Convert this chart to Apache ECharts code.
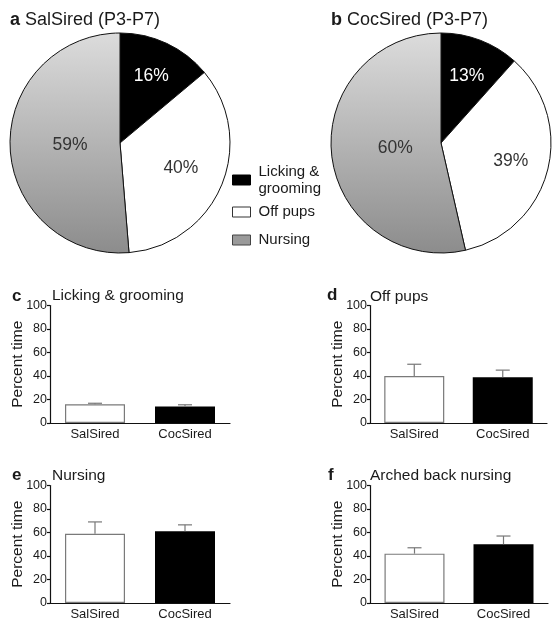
<!DOCTYPE html>
<html><head><meta charset="utf-8">
<script src="https://cdn.jsdelivr.net/npm/echarts@6/dist/echarts.min.js"></script>
<style>html,body{margin:0;padding:0;background:#fff}#c{width:555px;height:634px}</style>
</head><body><div id="c"></div>
<script>
// ---- data ----
const behaviours = ['Licking & grooming', 'Off pups', 'Nursing'];
const pieSalSired = [16, 40, 59];
const pieCocSired = [13, 39, 60];
const pieTitles = ['SalSired (P3-P7)', 'CocSired (P3-P7)'];
const groups = ['SalSired', 'CocSired'];
const panelTitles = ['Licking & grooming', 'Off pups', 'Nursing', 'Arched back nursing'];
const lgMean = [16, 14];  const lgSem = [0.8, 1.5];
const offMean = [40, 39]; const offSem = [10, 6];
const nurMean = [59, 61]; const nurSem = [10, 5.5];
const abnMean = [42, 50]; const abnSem = [5, 7];
const yTicks = [0, 20, 40, 60, 80, 100];

// ---- styles / layout ----
const FF = '"Liberation Sans", Arial, Helvetica, sans-serif';
const TXT = '#1a1a1a';
const grayGrad = {type:'linear', x:0, y:0, x2:0, y2:1,
  colorStops:[{offset:0, color:'#dcdcdc'}, {offset:1, color:'#8c8c8c'}]};
const sliceStyles = [{color:'#000'}, {color:'#fff'}, {color:grayGrad}];
const legendIcons = [
  {color:'#000', borderColor:'#000', borderWidth:1},
  {color:'#fff', borderColor:'#333', borderWidth:1},
  {color:'#9a9a9a', borderColor:'#444', borderWidth:1}];
const legendTops = [164, 203.5, 231.5];
const pieCenters = [[120, 143], [441, 143]];
const pieLabelR = [[74, 66, 50], [72, 72, 46]];
const barStyles = [{color:'#fff', borderColor:'#7a7a7a', borderWidth:1.2}, {color:'#000'}];
const grids = [
  {left:50, top:305.5, width:180, height:117.5},
  {left:370, top:305.5, width:177, height:117.5},
  {left:50, top:485.5, width:180, height:117.5},
  {left:370, top:485.5, width:178, height:117.5}];
const letterPos = [[12, 288], [327, 287], [12, 467], [328, 467]];
const titlePos = [[52, 288], [370, 289], [52, 468], [370, 468]];
const panelData = [[lgMean, lgSem], [offMean, offSem], [nurMean, nurSem], [abnMean, abnSem]];

function pieSeries(vals, idx) {
  const center = pieCenters[idx];
  return {
    type:'pie', center:center, radius:110, startAngle:90, clockwise:true,
    animation:false, silent:true,
    itemStyle:{borderColor:'#111', borderWidth:1},
    label:{show:true, position:'inside', formatter:p => p.value + '%',
      fontSize:17.5, color:'#333', fontFamily:FF},
    labelLine:{show:false},
    labelLayout:function(p){
      const r = p.labelRect;
      const lx = r.x + r.width/2, ly = r.y + r.height/2;
      const dx = lx - center[0], dy = ly - center[1];
      const d = Math.sqrt(dx*dx + dy*dy) || 1;
      const k = pieLabelR[idx][p.dataIndex] / d;
      return {dx: dx*(k-1), dy: dy*(k-1)};
    },
    data: vals.map((v, i) => ({name:behaviours[i], value:v, itemStyle:sliceStyles[i],
      label: i === 0 ? {color:'#fff'} : {}}))
  };
}

const titles = [];
['a', 'b'].forEach((l, i) => {
  titles.push({text:'{b|' + l + '} ' + pieTitles[i], left: i === 0 ? 10 : 331, top:11, padding:0,
    textStyle:{fontSize:18, fontWeight:'normal', color:TXT, fontFamily:FF,
      rich:{b:{fontWeight:'bold', fontSize:18, color:TXT, fontFamily:FF}}}});
});
['c', 'd', 'e', 'f'].forEach((l, i) => {
  titles.push({text:l, left:letterPos[i][0], top:letterPos[i][1], padding:0,
    textStyle:{fontSize:17, fontWeight:'bold', color:TXT, fontFamily:FF}});
  titles.push({text:panelTitles[i], left:titlePos[i][0], top:titlePos[i][1], padding:0,
    textStyle:{fontSize:15.5, fontWeight:'normal', color:TXT, fontFamily:FF}});
});

const legends = behaviours.map((n, i) => ({
  data:[{name:n, icon:'rect', itemStyle:legendIcons[i]}],
  left:232, top:legendTops[i], orient:'vertical', padding:0,
  itemWidth:18, itemHeight:10, selectedMode:false,
  formatter: name => name === 'Licking & grooming' ? 'Licking &\ngrooming' : name,
  textStyle:{fontSize:15, color:TXT, fontFamily:FF, lineHeight:17, height:17, padding:[0,0,0,3]}
}));

const axisLineStyle = {color:'#111', width:1.2};
const xAxes = grids.map((g, k) => ({
  type:'category', gridIndex:k, data:groups,
  axisLine:{lineStyle:axisLineStyle},
  axisTick:{alignWithLabel:true, length:4, lineStyle:axisLineStyle},
  axisLabel:{fontSize:13, color:TXT, margin:5, fontFamily:FF}
}));
const yAxes = grids.map((g, k) => ({
  type:'value', gridIndex:k, min:yTicks[0], max:yTicks[yTicks.length-1],
  interval:yTicks[1]-yTicks[0],
  axisLine:{show:true, lineStyle:axisLineStyle},
  axisTick:{show:true, length:3, lineStyle:axisLineStyle},
  axisLabel:{fontSize:12.5, color:TXT, margin:3, fontFamily:FF},
  splitLine:{show:false},
  name:'Percent time', nameLocation:'middle', nameGap:24, nameMoveOverlap:false,
  nameTextStyle:{fontSize:15.5, color:TXT, fontFamily:FF}
}));

const series = [pieSeries(pieSalSired, 0), pieSeries(pieCocSired, 1)];
panelData.forEach((pd, k) => {
  const mean = pd[0], sem = pd[1];
  series.push({type:'bar', xAxisIndex:k, yAxisIndex:k, barWidth:60, animation:false, silent:true,
    data: mean.map((v, i) => ({value:v, itemStyle:barStyles[i]}))});
  series.push({type:'custom', xAxisIndex:k, yAxisIndex:k, z:5, animation:false, silent:true,
    data: mean.map((m, i) => [i, m, m + sem[i]]),
    renderItem:(params, api) => {
      const x = api.value(0);
      const p0 = api.coord([x, api.value(1)]);
      const p1 = api.coord([x, api.value(2)]);
      const w = 7;
      const st = {stroke:'#777', lineWidth:1.2};
      return {type:'group', children:[
        {type:'line', shape:{x1:p0[0], y1:p0[1], x2:p1[0], y2:p1[1]}, style:st},
        {type:'line', shape:{x1:p1[0]-w, y1:p1[1], x2:p1[0]+w, y2:p1[1]}, style:st}]};
    }});
});

const chart = echarts.init(document.getElementById('c'), null, {renderer:'canvas'});
chart.setOption({
  backgroundColor:'#fff', animation:false,
  title:titles, legend:legends, grid:grids, xAxis:xAxes, yAxis:yAxes, series:series
});
</script></body></html>
